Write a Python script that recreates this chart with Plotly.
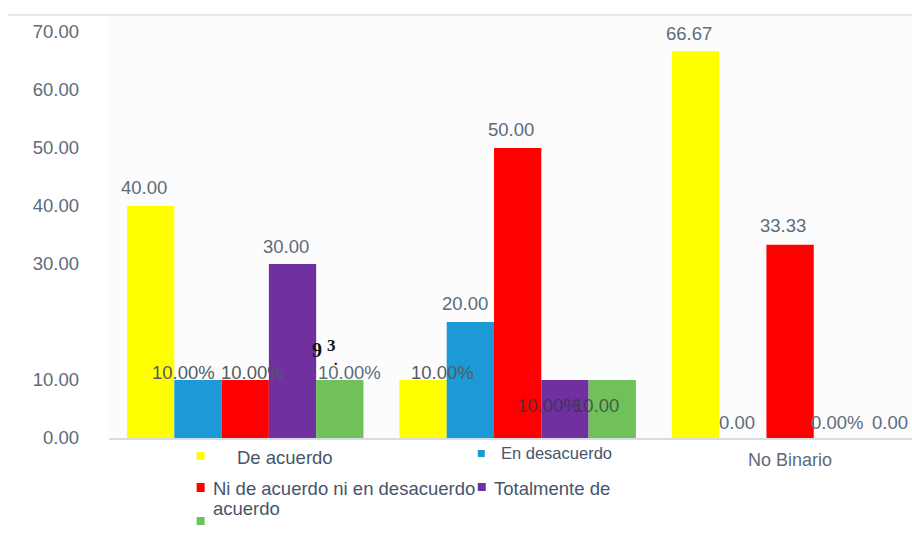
import plotly.graph_objects as go

# ---------------- data ----------------
categories = ["Femenino", "Masculino", "No Binario"]
tick_labels = ["", "", "No Binario"]
series_names = ["De acuerdo", "En desacuerdo", "Ni de acuerdo ni en desacuerdo",
                "Totalmente de acuerdo", ""]
de_acuerdo = [40.00, 10.00, 66.67]
en_desacuerdo = [10.00, 20.00, 0.00]
ni_de_acuerdo = [10.00, 50.00, 33.33]
totalmente_de_acuerdo = [30.00, 10.00, 0.00]
serie_verde = [10.00, 10.00, 0.00]

labels_de_acuerdo = ["40.00", "10.00%", "66.67"]
labels_en_desacuerdo = ["10.00%", "20.00", "0.00"]
labels_ni_de_acuerdo = ["10.00%", "50.00", "33.33"]
labels_totalmente = ["30.00", "10.00%", "0.00%"]
labels_verde = ["10.00%", "10.00", "0.00"]

y_tick_values = [0, 10, 30, 40, 50, 60, 70]

# ---------------- styles ----------------
colors = ["#ffff00", "#1c9ad8", "#ff0000", "#7030a0", "#70c15a"]
series_values = [de_acuerdo, en_desacuerdo, ni_de_acuerdo, totalmente_de_acuerdo, serie_verde]
series_labels = [labels_de_acuerdo, labels_en_desacuerdo, labels_ni_de_acuerdo,
                 labels_totalmente, labels_verde]
# label offsets (px) per series/group
label_xshift = [[-7, 19, -7], [-14, -5, -6], [7, -7, -7], [-7, -16, 0], [10, -16, 5]]
label_yshift = [[19, 8, 18], [8, 19, 16], [8, 19, 19], [18, -25, 16], [8, -25, 16]]
label_color = [["#5d6b7a", "#525b62", "#5d6b7a"],
               ["#525b62", "#5d6b7a", "#5d6b7a"],
               ["#525b62", "#5d6b7a", "#5d6b7a"],
               ["#5d6b7a", "rgba(50,50,70,0.75)", "#5d6b7a"],
               ["#5d6b7a", "rgba(50,60,60,0.75)", "#5d6b7a"]]

W, H = 912, 536
L = 109.4
T = 15
B = H - 438
R = 0
PW, PH = W - L - R, H - T - B
bargap = 0.132
n = len(series_values)
bw = (1 - bargap) / n
FONT = "Liberation Sans, Arial, sans-serif"


def px(x):
    return (x - L) / PW


def py(y):
    return (H - B - y) / PH


fig = go.Figure()
for i, (name, vals) in enumerate(zip(series_names, series_values)):
    fig.add_trace(go.Bar(x=categories, y=vals, name=name, marker_color=colors[i],
                         marker_line_width=0, showlegend=False))

annotations = []
for i in range(n):
    for g in range(len(categories)):
        annotations.append(dict(
            x=g + (i - (n - 1) / 2) * bw, y=series_values[i][g], xref="x", yref="y",
            text=series_labels[i][g], showarrow=False, xanchor="center", yanchor="middle",
            xshift=label_xshift[i][g], yshift=label_yshift[i][g],
            font=dict(family=FONT, size=18.5, color=label_color[i][g])))

# stray glyphs over the first group
annotations.append(dict(xref="paper", yref="paper", x=px(310), y=py(363), text="<b>9</b>",
                        showarrow=False, font=dict(family="Liberation Serif, serif", size=20, color="#111")))
annotations.append(dict(xref="paper", yref="paper", x=px(325), y=py(357), text="<b>3</b>",
                        showarrow=False, font=dict(family="Liberation Serif, serif", size=17, color="#111")))
annotations.append(dict(xref="paper", yref="paper", x=px(332), y=py(370), text="<b>.</b>",
                        showarrow=False, font=dict(family="Liberation Serif, serif", size=14, color="#111")))

# custom legend
shapes = []
legend_items = [
    (0, (197, 452, 205, 460), [(series_names[0], 235, 457, 18.5)]),
    (1, (478, 450, 485, 457), [(series_names[1], 499, 453, 16.5)]),
    (2, (197, 483, 205, 492), [(series_names[2], 211, 488, 18.5)]),
    (3, (478, 483, 486, 491), [("Totalmente de", 492, 488, 18.5), ("acuerdo", 211, 508, 18.5)]),
    (4, (197, 517, 205, 525), []),
]
for idx, (x0, y0, x1, y1), texts in legend_items:
    shapes.append(dict(type="rect", xref="paper", yref="paper", x0=px(x0), x1=px(x1),
                       y0=py(y1), y1=py(y0), fillcolor=colors[idx], line_width=0))
    for txt, tx, ty, fs in texts:
        annotations.append(dict(xref="paper", yref="paper", x=px(tx), y=py(ty), text=txt,
                                showarrow=False, xanchor="left", yanchor="middle",
                                font=dict(family=FONT, size=fs, color="#46556a")))

# top border line
shapes.append(dict(type="line", xref="paper", yref="paper", x0=px(8), x1=px(912),
                   y0=py(15), y1=py(15), line=dict(color="#e3e8ed", width=2)))

fig.update_layout(
    width=W, height=H, margin=dict(l=L, r=R, t=T, b=B),
    paper_bgcolor="#ffffff", plot_bgcolor="#fcfcfd",
    barmode="group", bargap=bargap, bargroupgap=0,
    annotations=annotations, shapes=shapes,
    font=dict(family=FONT),
)
fig.update_xaxes(range=[-0.5, -0.5 + PW / 272.3], tickvals=categories, ticktext=tick_labels,
                 showline=True, linecolor="#d5dde5", linewidth=2, showgrid=False,
                 ticks="", tickfont=dict(size=18, color="#5d6b7a"), ticklabelstandoff=4)
fig.update_yaxes(range=[0, PH / 5.8], tickvals=y_tick_values,
                 ticktext=[f"{v:.2f}" for v in y_tick_values], showgrid=False,
                 zeroline=False, showline=False, ticks="",
                 tickfont=dict(size=18.5, color="#5d6b7a"), ticklabelstandoff=29)

fig.write_html("out.html", config={"displayModeBar": False},
               post_script="document.body.style.margin='0';document.body.style.overflow='hidden';")
